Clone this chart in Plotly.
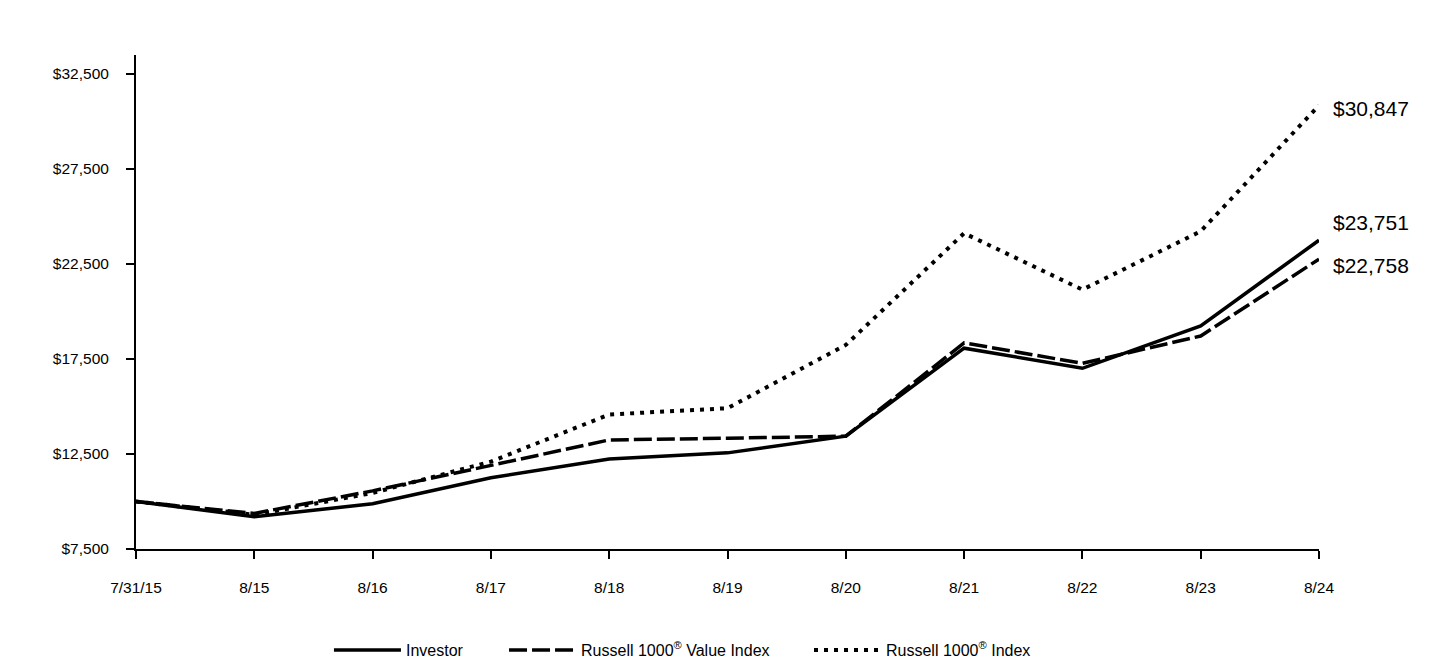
import plotly.graph_objects as go

dates = ["7/31/15", "8/15", "8/16", "8/17", "8/18", "8/19", "8/20", "8/21", "8/22", "8/23", "8/24"]
investor = [10000, 9200, 9880, 11250, 12240, 12560, 13440, 18070, 17010, 19240, 23751]
value_index = [10000, 9370, 10560, 11900, 13240, 13330, 13440, 18350, 17270, 18710, 22758]
russell_1000 = [10000, 9300, 10450, 12100, 14580, 14910, 18240, 24120, 21150, 24220, 30847]
end_labels = ["$23,751", "$22,758", "$30,847"]
y_ticks = [7500, 12500, 17500, 22500, 27500, 32500]
y_tick_text = ["$" + f"{v:,}" for v in y_ticks]

FONT = "Arial, Liberation Sans, sans-serif"
xs = list(range(len(dates)))

fig = go.Figure()
fig.add_trace(go.Scatter(x=xs, y=investor, mode="lines", name="Investor",
                         legend="legend",
                         line=dict(color="black", width=3.5)))
fig.add_trace(go.Scatter(x=xs, y=value_index, mode="lines",
                         name="Russell 1000<sup>®</sup> Value Index",
                         legend="legend2",
                         line=dict(color="black", width=3.5, dash="18px,5px")))
fig.add_trace(go.Scatter(x=xs, y=russell_1000, mode="lines",
                         name="Russell 1000<sup>®</sup> Index",
                         legend="legend3",
                         line=dict(color="black", width=4, dash="4px,6px")))

series_end = [investor[-1], value_index[-1], russell_1000[-1]]
shifts = [18, -6, -3]
for lab, yv, sh in zip(end_labels, series_end, shifts):
    fig.add_annotation(x=xs[-1], y=yv, text=lab, showarrow=False,
                       xanchor="left", yanchor="middle", xshift=12, yshift=sh,
                       font=dict(family=FONT, size=21, color="black"))

fig.update_xaxes(range=[0, 10], tickvals=xs, ticktext=dates,
                 showline=True, linecolor="black", linewidth=2,
                 ticks="outside", ticklen=8, tickwidth=2, tickcolor="black",
                 showgrid=False, zeroline=False, ticklabelstandoff=15,
                 automargin=False,
                 tickfont=dict(family=FONT, size=15.5, color="black"))
fig.update_yaxes(range=[7500, 33500], tickvals=y_ticks, ticktext=y_tick_text,
                 showline=True, linecolor="black", linewidth=2,
                 ticks="outside", ticklen=8, tickwidth=2, tickcolor="black",
                 showgrid=False, zeroline=False, ticklabelstandoff=14,
                 automargin=False,
                 tickfont=dict(family=FONT, size=15.5, color="black"))

legend_common = dict(orientation="h", xanchor="left", y=-0.2045, yanchor="middle",
                     font=dict(family=FONT, size=16, color="black"),
                     itemwidth=67, itemclick=False, bgcolor="rgba(0,0,0,0)")

fig.update_layout(
    width=1432, height=652,
    margin=dict(l=128, r=121, t=47, b=111, autoexpand=False),
    paper_bgcolor="white", plot_bgcolor="white",
    font=dict(family=FONT, color="black"),
    showlegend=True,
    legend=dict(x=0.1631, **legend_common),
    legend2=dict(x=0.3111, **legend_common),
    legend3=dict(x=0.5689, **legend_common),
    hovermode=False,
)

fig.write_html("out.html")
